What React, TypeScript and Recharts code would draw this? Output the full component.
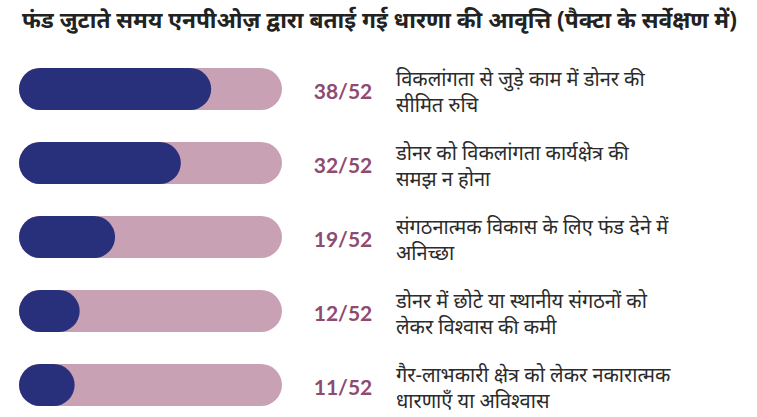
import React from 'react';
import { BarChart, Bar, XAxis, YAxis, LabelList } from 'recharts';

const title = 'फंड जुटाते समय एनपीओज़ द्वारा बताई गई धारणा की आवृत्ति (पैक्टा के सर्वेक्षण में)';
const labelLine1 = [
  'विकलांगता से जुड़े काम में डोनर की',
  'डोनर को विकलांगता कार्यक्षेत्र की',
  'संगठनात्मक विकास के लिए फंड देने में',
  'डोनर में छोटे या स्थानीय संगठनों को',
  'गैर-लाभकारी क्षेत्र को लेकर नकारात्मक',
];
const labelLine2 = [
  'सीमित रुचि',
  'समझ न होना',
  'अनिच्छा',
  'लेकर विश्वास की कमी',
  'धारणाएँ या अविश्वास',
];
const values = [38, 32, 19, 12, 11];
const total = 52;

const data = values.map((v, i) => ({
  key: String(i),
  value: v,
  total,
  l1: labelLine1[i],
  l2: labelLine2[i],
}));

const renderLabel = (props: any) => {
  const { x, y, width, height, index } = props;
  const cy = Number(y) + Number(height) / 2;
  const endX = Number(x) + Number(width);
  const d = data[index];
  return (
    <g>
      <text
        x={endX + 61}
        y={cy + 1}
        textAnchor="middle"
        dominantBaseline="central"
        fontFamily="Lato, 'Open Sans', sans-serif"
        fontWeight={700}
        fontSize={21}
        fill="#8e4a6f"
      >
        {`${d.value}/${total}`}
      </text>
      <text
        x={endX + 114}
        y={cy - 11}
        dominantBaseline="central"
        fontFamily="'Noto Sans', sans-serif"
        fontSize={20}
        fill="#2b2b2b"
      >
        {d.l1}
      </text>
      <text
        x={endX + 114}
        y={cy + 15}
        dominantBaseline="central"
        fontFamily="'Noto Sans', sans-serif"
        fontSize={20}
        fill="#2b2b2b"
      >
        {d.l2}
      </text>
    </g>
  );
};

export default function App() {
  return (
    <div style={{ position: 'fixed', left: 0, top: 0, width: 757, height: 417, background: '#fff', overflow: 'hidden' }}>
      <div
        style={{
          position: 'absolute',
          left: 22,
          top: 3,
          fontFamily: "'Noto Sans', sans-serif",
          fontWeight: 700,
          fontSize: 22.7,
          color: '#222',
          whiteSpace: 'nowrap',
          lineHeight: '34px',
        }}
      >
        {title}
      </div>
      <div style={{ position: 'absolute', left: 0, top: 52 }}>
        <BarChart
          width={757}
          height={370}
          data={data}
          layout="vertical"
          margin={{ top: 0, right: 475, left: 19, bottom: 0 }}
          barGap={-42}
        >
          <XAxis type="number" domain={[0, total]} hide />
          <YAxis type="category" dataKey="key" hide />
          <Bar dataKey="total" fill="#c9a1b4" barSize={42} radius={21} isAnimationActive={false}>
            <LabelList dataKey="total" content={renderLabel} />
          </Bar>
          <Bar dataKey="value" fill="#28307b" barSize={42} radius={21} isAnimationActive={false} />
        </BarChart>
      </div>
    </div>
  );
}
